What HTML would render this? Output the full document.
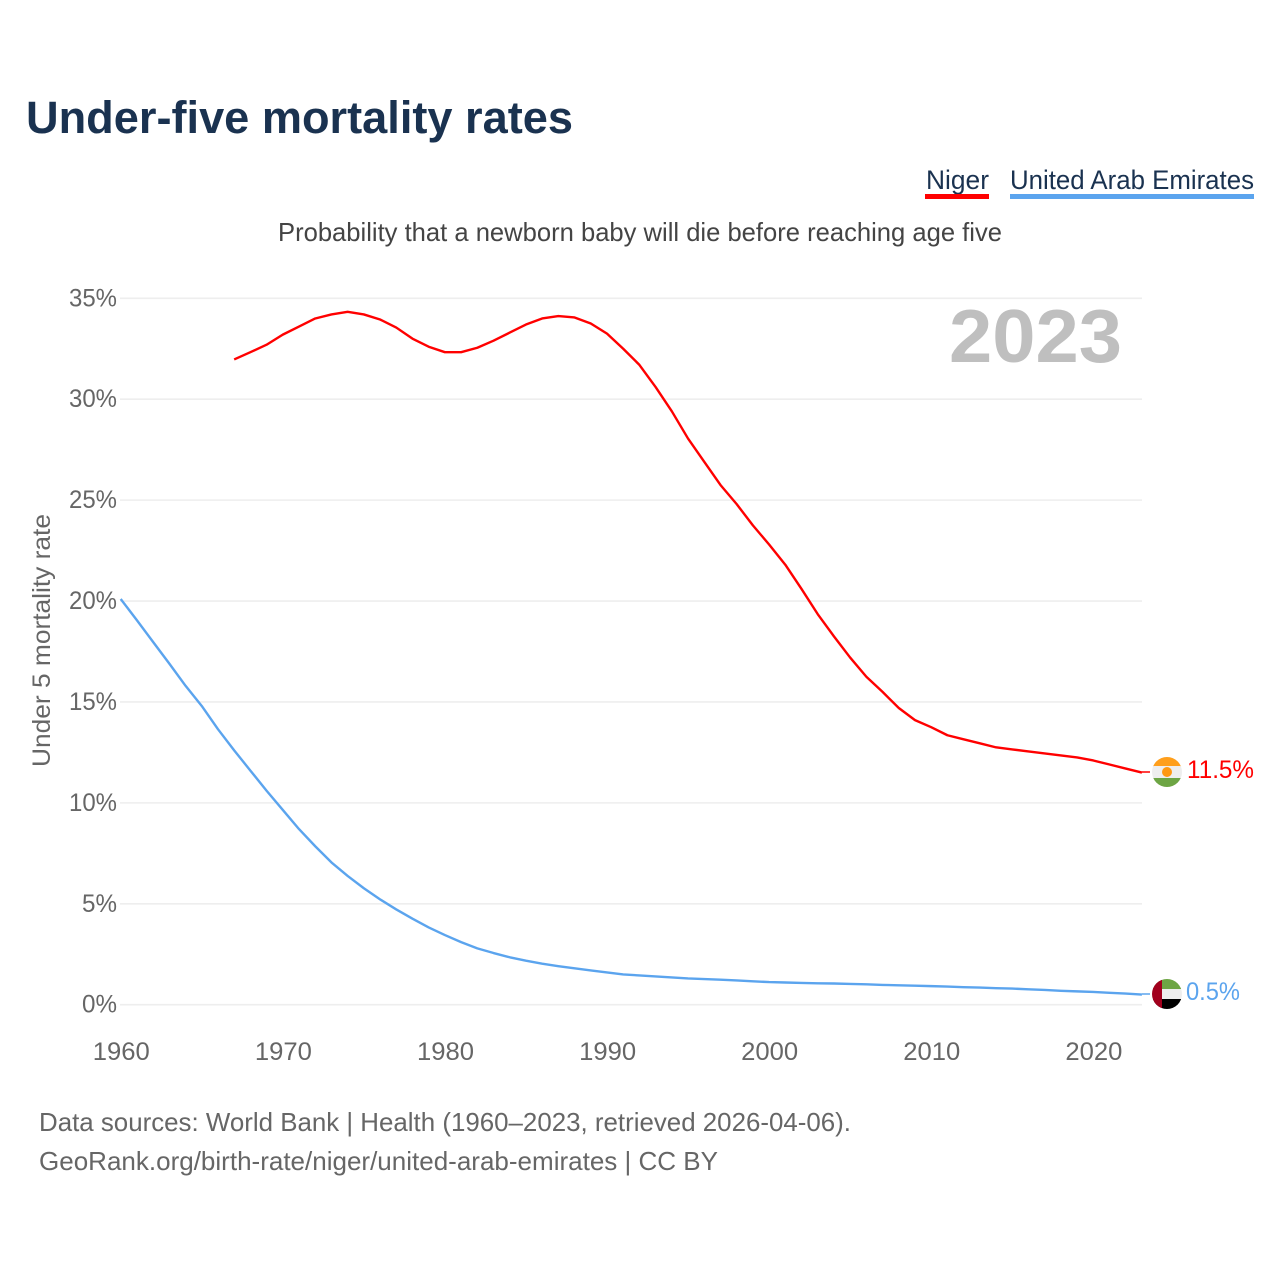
<!DOCTYPE html>
<html lang="en">
<head>
<meta charset="utf-8">
<title>Under-five mortality rates</title>
<style>
html,body{margin:0;padding:0;background:#fff}
svg{display:block}
text{font-family:"Liberation Sans",sans-serif}
</style>
</head>
<body>
<svg id="chart" width="1280" height="1280" viewBox="0 0 1280 1280" xmlns="http://www.w3.org/2000/svg">
  <defs>
    <clipPath id="clip-niger"><circle cx="1167" cy="772" r="15"/></clipPath>
    <clipPath id="clip-uae"><circle cx="1167" cy="994" r="15"/></clipPath>
  </defs>
  <rect width="1280" height="1280" fill="#fff"/>
  <text x="26" y="133" font-size="45" font-weight="700" fill="#1a3250" textLength="547" lengthAdjust="spacingAndGlyphs">Under-five mortality rates</text>
  <text x="926" y="189" font-size="27" fill="#1a3250" textLength="63" lengthAdjust="spacingAndGlyphs">Niger</text>
  <rect x="925" y="194" width="64" height="5" fill="#ff0000"/>
  <text x="1010" y="189" font-size="27" fill="#1a3250" textLength="244" lengthAdjust="spacingAndGlyphs">United Arab Emirates</text>
  <rect x="1010" y="194" width="244" height="5" fill="#5ba4ee"/>
  <text x="278" y="241" font-size="26" fill="#444" textLength="724" lengthAdjust="spacingAndGlyphs">Probability that a newborn baby will die before reaching age five</text>
  <g id="grid"></g>
  <g id="y-ticks"></g>
  <g id="x-ticks"></g>
  <text x="949" y="362" font-size="75" font-weight="700" fill="#bfbfbf" textLength="173" lengthAdjust="spacingAndGlyphs">2023</text>
  <text transform="translate(50,767) rotate(-90)" font-size="25" fill="#666" textLength="253" lengthAdjust="spacingAndGlyphs">Under 5 mortality rate</text>
  <path id="line-niger" fill="none" stroke="#ff0000" stroke-width="2.4" stroke-linejoin="round"/>
  <path id="line-uae" fill="none" stroke="#5ba4ee" stroke-width="2.4" stroke-linejoin="round"/>
  <g clip-path="url(#clip-niger)">
    <rect x="1152" y="757" width="30" height="10" fill="#ff9f1c"/>
    <rect x="1152" y="766" width="30" height="12" fill="#eeeeee"/>
    <rect x="1152" y="778" width="30" height="10" fill="#6da544"/>
    <circle cx="1167" cy="772" r="5" fill="#ff9811"/>
  </g>
  <g clip-path="url(#clip-uae)">
    <rect x="1152" y="979" width="30" height="10" fill="#6da544"/>
    <rect x="1152" y="989" width="30" height="11" fill="#eeeeee"/>
    <rect x="1152" y="999" width="30" height="11" fill="#000000"/>
    <rect x="1152" y="979" width="10" height="30" fill="#a2001d"/>
  </g>
  <line x1="1142" y1="772" x2="1150" y2="772" stroke="#ff0000" stroke-width="1.5"/>
  <line x1="1142" y1="994" x2="1150" y2="994" stroke="#5ba4ee" stroke-width="1.5"/>
  <text x="1187" y="778" font-size="25" fill="#ff0000" textLength="67" lengthAdjust="spacingAndGlyphs">11.5%</text>
  <text x="1186" y="1000" font-size="25" fill="#5ba4ee" textLength="54" lengthAdjust="spacingAndGlyphs">0.5%</text>
  <text x="39" y="1131" font-size="26" fill="#666" textLength="812" lengthAdjust="spacingAndGlyphs">Data sources: World Bank | Health (1960–2023, retrieved 2026-04-06).</text>
  <text x="39" y="1170" font-size="26" fill="#666" textLength="679" lengthAdjust="spacingAndGlyphs">GeoRank.org/birth-rate/niger/united-arab-emirates | CC BY</text>
</svg>
<script>
const nigerStartYear = 1967;
const nigerValues = [31.97,32.33,32.7,33.2,33.6,34.0,34.2,34.33,34.2,33.95,33.55,33.0,32.6,32.33,32.33,32.55,32.9,33.3,33.7,34.0,34.12,34.05,33.75,33.25,32.5,31.7,30.6,29.4,28.05,26.9,25.75,24.8,23.75,22.8,21.8,20.6,19.35,18.25,17.2,16.25,15.5,14.7,14.1,13.75,13.35,13.15,12.95,12.75,12.65,12.55,12.45,12.35,12.25,12.1,11.9,11.7,11.5];
const uaeStartYear = 1960;
const uaeValues = [20.1,19.05,17.97,16.9,15.8,14.8,13.65,12.6,11.6,10.6,9.65,8.7,7.85,7.05,6.38,5.77,5.22,4.72,4.26,3.83,3.45,3.1,2.79,2.56,2.35,2.18,2.03,1.91,1.8,1.7,1.6,1.5,1.45,1.4,1.35,1.3,1.27,1.24,1.2,1.16,1.12,1.1,1.08,1.06,1.05,1.03,1.01,0.98,0.96,0.94,0.92,0.9,0.87,0.85,0.82,0.8,0.76,0.73,0.69,0.66,0.63,0.59,0.55,0.5];
const yTickValues = [0,5,10,15,20,25,30,35];
const yTickLabels = ['0%','5%','10%','15%','20%','25%','30%','35%'];
const xTickYears = [1960,1970,1980,1990,2000,2010,2020];

const NS = 'http://www.w3.org/2000/svg';
const xScale = function (year) { return 120.7 + (year - 1960) * 16.21; };
const yScale = function (value) { return 1004.7 - value * 20.183; };

const linePath = function (startYear, values) {
  return values.map(function (v, i) {
    return (i ? 'L' : 'M') + xScale(startYear + i).toFixed(2) + ' ' + yScale(v).toFixed(2);
  }).join(' ');
};

document.getElementById('line-niger').setAttribute('d', linePath(nigerStartYear, nigerValues));
document.getElementById('line-uae').setAttribute('d', linePath(uaeStartYear, uaeValues));

const grid = document.getElementById('grid');
const yTicks = document.getElementById('y-ticks');
const xTicks = document.getElementById('x-ticks');

yTickValues.forEach(function (v, i) {
  const line = document.createElementNS(NS, 'line');
  
  
  line.setAttribute('x1', 120);
  line.setAttribute('x2', 1142);
  line.setAttribute('y1', yScale(v));
  line.setAttribute('y2', yScale(v));
  line.setAttribute('stroke', '#eeeeee');
  line.setAttribute('stroke-width', '1.6');
  grid.appendChild(line);

  const label = document.createElementNS(NS, 'text');
  
  
  label.setAttribute('x', 117);
  label.setAttribute('y', yScale(v) + 8);
  label.setAttribute('text-anchor', 'end');
  label.setAttribute('font-size', '25');
  label.setAttribute('fill', '#666');
  label.setAttribute('textLength', yTickLabels[i].length === 2 ? 35 : 48);
  label.setAttribute('lengthAdjust', 'spacingAndGlyphs');
  label.textContent = yTickLabels[i];
  yTicks.appendChild(label);
});

xTickYears.forEach(function (year) {
  const label = document.createElementNS(NS, 'text');
  
  
  label.setAttribute('x', xScale(year) + 0.6);
  label.setAttribute('y', 1060);
  label.setAttribute('text-anchor', 'middle');
  label.setAttribute('font-size', '25');
  label.setAttribute('fill', '#666');
  label.setAttribute('textLength', 57);
  label.setAttribute('lengthAdjust', 'spacingAndGlyphs');
  label.textContent = String(year);
  xTicks.appendChild(label);
});
</script>
</body>
</html>
